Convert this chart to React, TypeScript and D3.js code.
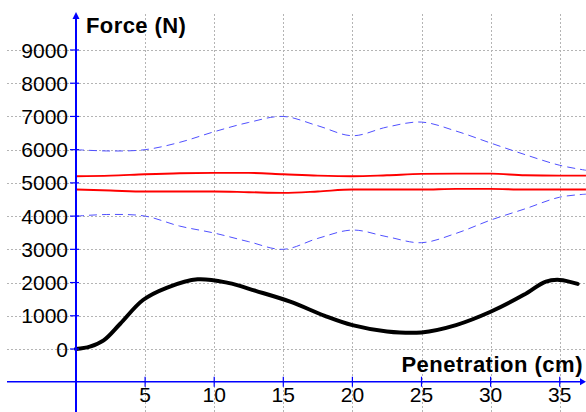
import React from "react";
import * as d3 from "d3";

const xTicks = [5, 10, 15, 20, 25, 30, 35];
const yTicks = [0, 1000, 2000, 3000, 4000, 5000, 6000, 7000, 8000, 9000];

const blackX = [0, 1, 2, 3.2, 4.85, 6.6, 8.8, 11, 13, 15.5, 18, 20, 22.5, 25, 27.5, 30, 32.4, 34, 35, 36.3];
const blackY = [0, 70, 260, 760, 1475, 1850, 2100, 1990, 1750, 1425, 1000, 720, 530, 500, 720, 1120, 1630, 2030, 2080, 1960];

const bandX = [0, 2.5, 5, 7.5, 10, 12.5, 15, 17.5, 20, 22.5, 25, 27.5, 30, 32.5, 35, 36.9];
const blueUpper = [6000, 5960, 6000, 6220, 6540, 6820, 7000, 6720, 6420, 6680, 6830, 6560, 6200, 5850, 5530, 5380];
const blueLower = [4000, 4050, 4000, 3700, 3490, 3230, 3000, 3330, 3580, 3380, 3200, 3480, 3880, 4220, 4570, 4660];
const redUpper = [5200, 5220, 5260, 5290, 5300, 5300, 5260, 5220, 5200, 5230, 5270, 5280, 5280, 5230, 5220, 5220];
const redLower = [4800, 4770, 4740, 4740, 4740, 4720, 4700, 4740, 4800, 4800, 4800, 4820, 4820, 4800, 4800, 4800];

const W = 586;
const H = 412;

export default function App() {
  const x = d3.scaleLinear().domain([0, 35]).range([76, 559.7]);
  const y = d3.scaleLinear().domain([0, 9000]).range([349, 50]);
  const axisY = y(-985);
  const x0 = x(0);

  const line = (xs: number[], ys: number[], curve: any) =>
    d3
      .line<number>()
      .x((_, i) => x(xs[i]))
      .y((v) => y(v))
      .curve(curve)(ys) as string;

  const font = "'Liberation Sans', Arial, sans-serif";

  return (
    <div style={{ position: "absolute", left: 0, top: 0 }}>
      <svg width={W} height={H} style={{ display: "block", background: "#fff" }} fontFamily={font}>
        {/* grid */}
        <g stroke="#b4b4b4" strokeWidth={1} strokeDasharray="2,2">
          {xTicks.map((t) => (
            <line key={"vx" + t} x1={Math.round(x(t)) + 0.5} x2={Math.round(x(t)) + 0.5} y1={14} y2={H} />
          ))}
          {yTicks.map((t) => (
            <line key={"hy" + t} x1={7} x2={W} y1={Math.round(y(t)) + 0.5} y2={Math.round(y(t)) + 0.5} />
          ))}
        </g>

        {/* curves */}
        <path d={line(bandX, blueUpper, d3.curveCatmullRom)} fill="none" stroke="#5050ff" strokeWidth={1} strokeDasharray="8,5" />
        <path d={line(bandX, blueLower, d3.curveCatmullRom)} fill="none" stroke="#5050ff" strokeWidth={1} strokeDasharray="8,5" />
        <path d={line(bandX, redUpper, d3.curveMonotoneX)} fill="none" stroke="#ff0000" strokeWidth={1.9} />
        <path d={line(bandX, redLower, d3.curveMonotoneX)} fill="none" stroke="#ff0000" strokeWidth={1.9} />
        <path d={line(blackX, blackY, d3.curveCatmullRom.alpha(0.5))} fill="none" stroke="#000" strokeWidth={4} strokeLinecap="round" strokeLinejoin="round" />

        {/* axes */}
        <line x1={7} x2={W - 4} y1={axisY} y2={axisY} stroke="#0000ff" strokeWidth={1.5} />
        <path d={`M${W},${axisY} L${W - 6},${axisY - 3.5} L${W - 6},${axisY + 3.5} Z`} fill="#0000ff" />
        <line x1={x0} x2={x0} y1={18} y2={H} stroke="#0000ff" strokeWidth={2} />
        <path d={`M${x0},${12} L${x0 - 3.5},${19} L${x0 + 3.5},${19} Z`} fill="#0000ff" />
        {yTicks.map((t) => (
          <line key={"yt" + t} x1={x0 - 6} x2={x0 + 3} y1={y(t)} y2={y(t)} stroke="#0000ff" strokeWidth={1.2} />
        ))}
        {xTicks.map((t) => (
          <line key={"xt" + t} x1={x(t)} x2={x(t)} y1={axisY - 5} y2={axisY + 5} stroke="#0000ff" strokeWidth={1.2} />
        ))}

        {/* labels */}
        {yTicks.map((t) => (
          <text key={"yl" + t} x={68} y={y(t) + 7.5} textAnchor="end" fontSize={21} fill="#000">
            {t}
          </text>
        ))}
        {xTicks.map((t) => (
          <text key={"xl" + t} x={x(t)} y={402} textAnchor="middle" fontSize={21} fill="#000">
            {t}
          </text>
        ))}
        <text x={86} y={33} fontSize={22} letterSpacing={0.4} fontWeight="bold" fill="#000">
          Force (N)
        </text>
        <text x={583} y={372} textAnchor="end" fontSize={22} letterSpacing={0.5} fontWeight="bold" fill="#000">
          Penetration (cm)
        </text>
      </svg>
    </div>
  );
}
